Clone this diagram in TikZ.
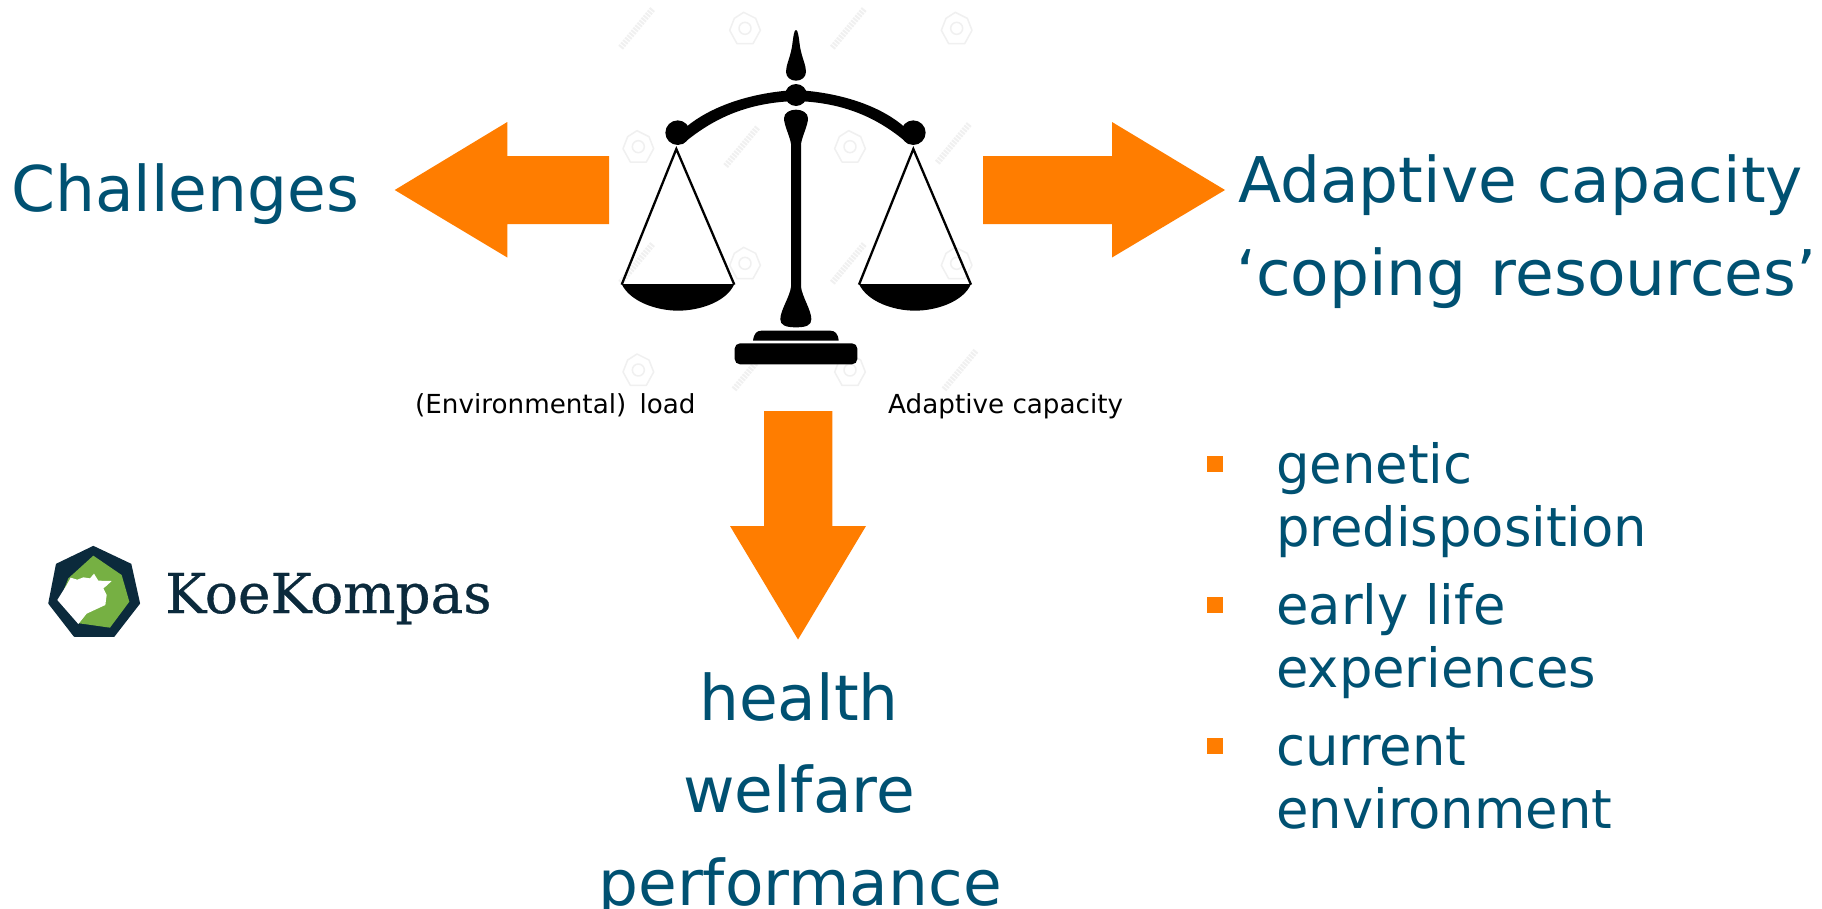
\documentclass[tikz,border=0pt]{standalone}
\usepackage{fontspec}
\setmainfont{DejaVu Sans}
\newfontfamily\logofont[FakeBold=0.6]{DejaVu Serif}
\newfontfamily\listfont[FakeStretch=0.977]{DejaVu Sans}
\definecolor{titleblue}{HTML}{005172}
\definecolor{arroworange}{HTML}{FF7D00}
\definecolor{logonavy}{HTML}{0B2A3C}
\definecolor{logogreen}{HTML}{76B043}
\definecolor{wmgray}{HTML}{F0F0F0}
\newcommand{\bigtxt}{\fontsize{63}{70}\selectfont}
\newcommand{\listtxt}{\listfont\fontsize{54}{60}\selectfont}
\newcommand{\smalltxt}{\fontsize{26.2}{30}\selectfont}
\tikzset{
  x=1pt,y=-1pt,
  blockarrow/.style={fill=arroworange,draw=none},
  bigtext/.style={anchor=base west,inner sep=0pt,text=titleblue,font=\bigtxt},
  bigmid/.style={anchor=base,inner sep=0pt,text=titleblue,font=\bigtxt},
  listtext/.style={anchor=base west,inner sep=0pt,text=titleblue,font=\listtxt},
  smalltext/.style={anchor=base west,inner sep=0pt,text=black,font=\smalltxt},
  bulletsq/.style={fill=arroworange,draw=none},
  wmhex/.style={draw=wmgray,line width=1.5pt,line join=round},
  wmdiag/.style={draw=wmgray,line width=6pt,dash pattern=on 2pt off 1.2pt},
}
\begin{document}
\begin{tikzpicture}
\useasboundingbox (0,0) rectangle (1822,908);
\clip (0,0) rectangle (1822,908);
\fill[white] (0,0) rectangle (1822,908);

% watermark and balance, written in coordinates of a 3x crop at (600,0)
\begin{scope}[x=0.33333pt,y=-0.33333pt,shift={(600pt,0pt)}]
  \foreach \hx/\hy in {435/85,1070/85,115/440,750/440,435/790,1070/790,115/1110,750/1110}{
    \draw[wmhex] (\hx-4,\hy-48) -- (\hx+32,\hy-30) -- (\hx+46,\hy+6) -- (\hx+24,\hy+46) -- (\hx-24,\hy+46) -- (\hx-46,\hy+6) -- (\hx-32,\hy-30) -- cycle;
    \draw[wmhex] (\hx,\hy) circle (6pt);
  }
  \foreach \dx/\dy in {110/85,745/85,425/440,1060/430,110/790,745/790,450/1110,1080/1110}{
    \draw[wmdiag] (\dx-48,\dy+58) -- (\dx+48,\dy-58);
  }

  % finial
  \fill[black] (588,90) .. controls (594,90) and (596,110) .. (600,140)
     .. controls (606,175) and (618,195) .. (618,215)
     .. controls (618,232) and (604,242) .. (588,242)
     .. controls (572,242) and (558,232) .. (558,215)
     .. controls (558,195) and (570,175) .. (576,140)
     .. controls (580,110) and (582,90) .. (588,90) -- cycle;
  % beam
  \fill[black] (262,378) .. controls (340,315) and (460,277) .. (588,270)
     .. controls (716,277) and (836,315) .. (910,378)
     -- (925,432) .. controls (820,340) and (710,307) .. (588,303)
     .. controls (466,307) and (356,340) .. (248,432) -- cycle;
  \fill[black] (588,285) circle (11pt);
  \fill[black] (233,398) circle (12.3pt);
  \fill[black] (940,398) circle (12.3pt);
  % post
  \fill[black] (552,355) .. controls (552,338) and (570,329) .. (588,329)
     .. controls (606,329) and (624,338) .. (624,355)
     .. controls (624,375) and (606,410) .. (603,432)
     -- (603,860)
     .. controls (606,890) and (634,930) .. (634,958)
     .. controls (634,975) and (620,982) .. (588,982)
     .. controls (556,982) and (541,975) .. (541,958)
     .. controls (541,930) and (570,890) .. (573,860)
     -- (573,432)
     .. controls (570,410) and (552,375) .. (552,355) -- cycle;
  % base
  \fill[black] (459,1022) .. controls (462,1000) and (470,992) .. (485,992)
     -- (690,992) .. controls (705,992) and (714,1000) .. (716,1022) -- cycle;
  \fill[black,rounded corners=5.3pt] (404,1030) rectangle (772,1093);
  % pans
  \draw[black,line width=2.3pt,line join=miter] (65,854) -- (229,447) -- (403,854);
  \fill[black] (65,852) .. controls (90,905) and (170,932) .. (234,932)
     .. controls (300,932) and (380,905) .. (403,852) -- cycle;
  \draw[black,line width=2.3pt,line join=miter] (777,854) -- (940,447) -- (1113,854);
  \fill[black] (777,852) .. controls (802,905) and (880,932) .. (945,932)
     .. controls (1010,932) and (1090,905) .. (1113,852) -- cycle;
\end{scope}

% block arrows
\fill[blockarrow] (609,156) -- (507.3,156) -- (507.3,122) -- (394.7,190) -- (507.3,257.5) -- (507.3,224) -- (609,224) -- cycle;
\fill[blockarrow] (983,156) -- (1112,156) -- (1112,122) -- (1225,190) -- (1112,257.5) -- (1112,224) -- (983,224) -- cycle;
\fill[blockarrow] (764,411) -- (832.3,411) -- (832.3,526) -- (866,526) -- (798,639.5) -- (730,526) -- (764,526) -- cycle;

% texts
\node[bigtext] (challenges) at (11,211.5) {Challenges};
\node[bigtext] (adaptive) at (1238,202.7) {Adaptive capacity};
\node[bigtext] (coping) at (1236,295) {‘coping\hspace{4pt} resources’};
\node[bigmid] (health) at (799,720.7) {health};
\node[bigmid] (welfare) at (799,812.7) {welfare};
\node[bigmid] (performance) at (800,905) {performance};
\node[smalltext] (load) at (415,413) {(Environmental)\hspace{5pt} load};
\node[smalltext] (adaptsmall) at (888,413) {Adaptive capacity};

% bullet list
\fill[bulletsq] (1207,456) rectangle (1223,472);
\fill[bulletsq] (1207,597) rectangle (1223,613);
\fill[bulletsq] (1207,738) rectangle (1223,754);
\node[listtext] (l1) at (1276,483) {genetic};
\node[listtext] (l2) at (1276,546.7) {predisposition};
\node[listtext] (l3) at (1276,624) {early life};
\node[listtext] (l4) at (1276,687) {experiences};
\node[listtext] (l5) at (1276,765) {current};
\node[listtext] (l6) at (1276,828) {environment};

% logo, written in coordinates of a 3x crop at (40,535)
\begin{scope}[x=0.33333pt,y=-0.33333pt,shift={(40pt,-535pt)}]
  \fill[logonavy,draw=logonavy,line width=1.5pt,line join=round]
    (160,35) -- (272,88) -- (298,205) -- (222,303) -- (103,303) -- (27,205) -- (50,88) -- cycle;
  \fill[logogreen] (160,62) -- (245,120) -- (268,200) -- (210,278) -- (118,265) -- (60,195) -- (85,130) -- cycle;
  \fill[white] (52,195) -- (80,150) -- (92,128) -- (112,134) -- (130,127) -- (150,130) -- (162,116) -- (175,137)
     -- (215,138) -- (200,152) -- (190,160) -- (200,180) -- (196,210) -- (170,222) -- (140,236) -- (115,267) -- cycle;
\end{scope}
\node[anchor=base west,inner sep=0pt,text=logonavy,font=\logofont\fontsize{55}{60}\selectfont] (logo) at (165,613) {KoeKompas};
\end{tikzpicture}
\end{document}
